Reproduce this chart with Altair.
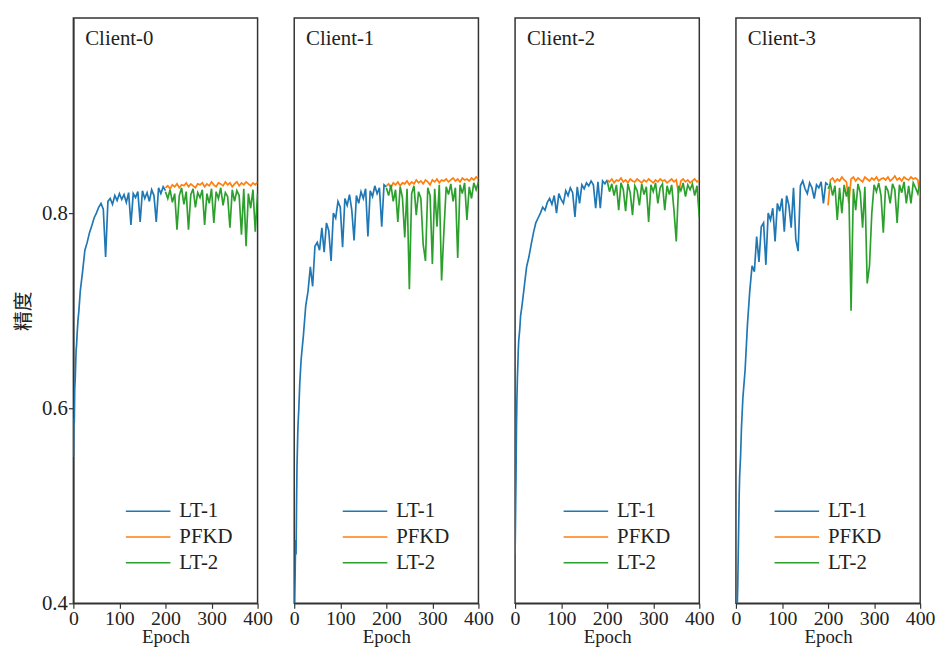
import altair as alt
import pandas as pd

CLIENTS = ["Client-0", "Client-1", "Client-2", "Client-3"]
SERIES = ["LT-1", "PFKD", "LT-2"]
COLORS = ["#1f77b4", "#ff7f0e", "#2ca02c"]
X_TICKS = [0, 100, 200, 300, 400]
Y_TICKS = [0.4, 0.6, 0.8]
EPOCH_LT1 = [0, 1, 2, 3, 4, 5, 6, 7, 8, 10, 12, 15] + list(range(20, 201, 5))
EPOCH_LATE = list(range(200, 401, 5))

LT1_C0 = [0.55, 0.59, 0.585, 0.62, 0.63, 0.645, 0.66, 0.665, 0.675, 0.69, 0.70, 0.72,
          0.74, 0.762, 0.77, 0.78, 0.787, 0.795, 0.80, 0.806, 0.81, 0.804,
          0.755, 0.812, 0.815, 0.809, 0.818, 0.813, 0.82, 0.814, 0.819, 0.811,
          0.821, 0.788, 0.82, 0.816, 0.822, 0.791, 0.823, 0.815, 0.821, 0.812,
          0.824, 0.818, 0.791, 0.826, 0.82, 0.827, 0.823]
PFKD_C0 = [0.826, 0.828, 0.825, 0.829, 0.827, 0.830, 0.826, 0.829, 0.828, 0.831,
           0.827, 0.830, 0.828, 0.826, 0.830, 0.829, 0.831, 0.827, 0.830, 0.828,
           0.832, 0.829, 0.827, 0.831, 0.830, 0.828, 0.832, 0.829, 0.831, 0.827,
           0.830, 0.832, 0.828, 0.831, 0.829, 0.832, 0.830, 0.828, 0.831, 0.829,
           0.832]
LT2_C0 = [0.822, 0.815, 0.824, 0.811, 0.820, 0.783, 0.818, 0.826, 0.809, 0.822,
          0.783, 0.819, 0.825, 0.806, 0.821, 0.816, 0.824, 0.788, 0.820, 0.810,
          0.825, 0.790, 0.822, 0.815, 0.826, 0.808, 0.821, 0.817, 0.785, 0.824,
          0.812, 0.823, 0.818, 0.778, 0.825, 0.766, 0.820, 0.805, 0.824, 0.781,
          0.820]

LT1_C1 = [0.36, 0.40, 0.43, 0.465, 0.45, 0.50, 0.54, 0.56, 0.58, 0.60, 0.625, 0.65,
          0.675, 0.705, 0.72, 0.745, 0.725, 0.766, 0.77, 0.762, 0.785, 0.76,
          0.79, 0.782, 0.751, 0.80, 0.795, 0.812, 0.806, 0.765, 0.815, 0.808,
          0.819, 0.803, 0.772, 0.818, 0.81, 0.822, 0.815, 0.825, 0.776, 0.823,
          0.817, 0.828, 0.82, 0.826, 0.786, 0.829, 0.827]
PFKD_C1 = [0.828, 0.830, 0.826, 0.831, 0.829, 0.832, 0.828, 0.831, 0.830, 0.833,
           0.829, 0.832, 0.830, 0.834, 0.831, 0.833, 0.830, 0.834, 0.832, 0.829,
           0.834, 0.832, 0.835, 0.831, 0.834, 0.833, 0.835, 0.832, 0.834, 0.836,
           0.833, 0.835, 0.832, 0.836, 0.834, 0.835, 0.833, 0.836, 0.834, 0.837,
           0.835]
LT2_C1 = [0.826, 0.818, 0.829, 0.812, 0.824, 0.791, 0.827, 0.816, 0.775, 0.825,
          0.722, 0.820, 0.828, 0.798, 0.822, 0.815, 0.768, 0.751, 0.826, 0.818,
          0.748, 0.825, 0.786, 0.829, 0.731, 0.781, 0.827, 0.819, 0.830, 0.812,
          0.826, 0.754, 0.829, 0.820, 0.831, 0.793, 0.827, 0.815, 0.831, 0.824,
          0.832]

LT1_C2 = [0.45, 0.49, 0.53, 0.58, 0.61, 0.63, 0.645, 0.66, 0.67, 0.68, 0.695, 0.705,
          0.725, 0.745, 0.755, 0.768, 0.78, 0.79, 0.795, 0.80, 0.806, 0.803,
          0.811, 0.815, 0.809, 0.818, 0.80, 0.82, 0.814, 0.81, 0.823, 0.818,
          0.826, 0.821, 0.796, 0.827, 0.81, 0.829, 0.825, 0.831, 0.828, 0.833,
          0.829, 0.805, 0.832, 0.805, 0.833, 0.83, 0.834]
PFKD_C2 = [0.834, 0.832, 0.835, 0.831, 0.834, 0.833, 0.836, 0.832, 0.834, 0.831,
           0.835, 0.833, 0.832, 0.835, 0.833, 0.831, 0.834, 0.832, 0.835, 0.833,
           0.831, 0.834, 0.832, 0.835, 0.833, 0.834, 0.831, 0.833, 0.835, 0.832,
           0.834, 0.820, 0.833, 0.835, 0.832, 0.834, 0.831, 0.833, 0.835, 0.832,
           0.834]
LT2_C2 = [0.833, 0.822, 0.830, 0.818, 0.829, 0.803, 0.831, 0.824, 0.802, 0.830,
          0.821, 0.798, 0.828, 0.823, 0.808, 0.830, 0.819, 0.827, 0.791, 0.829,
          0.822, 0.831, 0.810, 0.826, 0.830, 0.803, 0.828, 0.819, 0.829, 0.803,
          0.771, 0.828, 0.823, 0.831, 0.817, 0.829, 0.824, 0.830, 0.818, 0.828,
          0.796]

LT1_C3 = [0.33, 0.36, 0.38, 0.40, 0.42, 0.45, 0.48, 0.51, 0.53, 0.55, 0.58, 0.61,
          0.64, 0.686, 0.72, 0.746, 0.74, 0.776, 0.75, 0.786, 0.79, 0.747,
          0.80, 0.793, 0.805, 0.771, 0.81, 0.802, 0.815, 0.781, 0.818, 0.808,
          0.785, 0.826, 0.773, 0.761, 0.828, 0.833, 0.825, 0.82, 0.831, 0.826,
          0.815, 0.829, 0.826, 0.832, 0.81, 0.831, 0.829]
PFKD_C3 = [0.808, 0.834, 0.836, 0.832, 0.835, 0.833, 0.837, 0.834, 0.832, 0.810,
           0.835, 0.837, 0.833, 0.836, 0.834, 0.832, 0.837, 0.835, 0.833, 0.836,
           0.834, 0.837, 0.833, 0.835, 0.836, 0.834, 0.837, 0.833, 0.835, 0.838,
           0.834, 0.836, 0.833, 0.837, 0.835, 0.834, 0.837, 0.835, 0.836, 0.834,
           0.815]
LT2_C3 = [0.825, 0.830, 0.818, 0.828, 0.793, 0.826, 0.800, 0.829, 0.817, 0.827,
          0.700, 0.825, 0.803, 0.830, 0.821, 0.785, 0.827, 0.728, 0.746, 0.800,
          0.829, 0.822, 0.831, 0.818, 0.780, 0.828, 0.823, 0.810, 0.830, 0.824,
          0.790, 0.829, 0.821, 0.832, 0.810, 0.828, 0.810, 0.831, 0.826, 0.820,
          0.833]

LT1 = [LT1_C0, LT1_C1, LT1_C2, LT1_C3]
PFKD = [PFKD_C0, PFKD_C1, PFKD_C2, PFKD_C3]
LT2 = [LT2_C0, LT2_C1, LT2_C2, LT2_C3]

LEGEND_X = [52, 48, 48, 38]

rows = []
for i, c in enumerate(CLIENTS):
    for s, eps, vals in [("LT-1", EPOCH_LT1, LT1[i]),
                         ("PFKD", EPOCH_LATE, PFKD[i]),
                         ("LT-2", EPOCH_LATE, LT2[i])]:
        for e, v in zip(eps, vals, strict=True):
            rows.append({"client": c, "series": s, "epoch": e, "acc": v})
df = pd.DataFrame(rows)

FONT = "Liberation Serif"
TXT = "#222222"


def panel(i):
    c = CLIENTS[i]
    legend = alt.Legend(orient="none", legendX=LEGEND_X[i], legendY=488, title=None,
                        symbolType="stroke", symbolSize=2025, symbolStrokeWidth=1.5,
                        clipHeight=20, rowPadding=5, labelFont=FONT, labelFontSize=21,
                        labelColor=TXT, labelOffset=8, padding=0)
    x = alt.X("epoch:Q", scale=alt.Scale(domain=[0, 400], nice=False),
              axis=alt.Axis(values=X_TICKS, title="Epoch", format="d"))
    yscale = alt.Scale(domain=[0.4, 1.0], nice=False, zero=False)
    if i == 0:
        yax = alt.Axis(values=Y_TICKS, format=".1f", title="精度",
                       titleFont="Noto Sans CJK SC", titleFontWeight="normal",
                       titleFontSize=20, titlePadding=8, labelFontSize=21,
                       labelPadding=1)
        y = alt.Y("acc:Q", scale=yscale, axis=yax)
    else:
        y = alt.Y("acc:Q", scale=yscale, axis=None)
    layers = []
    for s in SERIES:
        sub = df[(df.client == c) & (df.series == s)]
        layers.append(
            alt.Chart(sub).mark_line(strokeWidth=1.7, clip=True).encode(
                x=x, y=y,
                color=alt.Color("series:N", scale=alt.Scale(domain=SERIES, range=COLORS),
                                legend=legend)))
    label = alt.Chart(pd.DataFrame({"t": [c]})).mark_text(
        align="left", baseline="middle", font=FONT, fontSize=21, color=TXT
    ).encode(text="t:N", x=alt.value(12), y=alt.value(21))
    return alt.layer(*layers, label).properties(width=186, height=591)


chart = alt.hconcat(*[panel(i) for i in range(4)], spacing=37, bounds="flush").resolve_scale(
    color="independent").resolve_legend(color="independent").properties(
    padding={"left": 5, "top": 6, "right": 0, "bottom": 0}
).configure_axis(
    labelFont=FONT, labelFontSize=20, labelColor=TXT, titleFont=FONT, titleFontSize=19,
    titleFontWeight="normal", titleColor=TXT, domainColor="#333333", domainWidth=1.5,
    tickColor="#333333", tickSize=5, tickWidth=1.2, grid=False, labelPadding=0,
    titlePadding=0, labelFlush=False
).configure_view(stroke="#333333", strokeWidth=1.5)

chart.save("out.html", embed_options={"renderer": "svg", "actions": False})
